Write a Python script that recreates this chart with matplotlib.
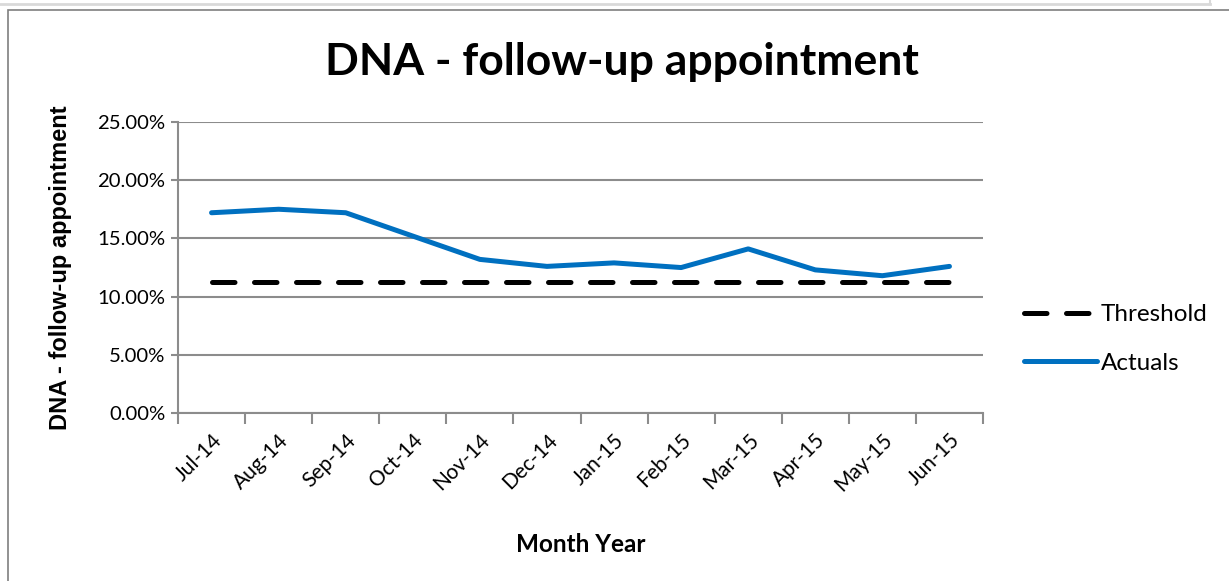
import matplotlib
matplotlib.use("Agg")
import matplotlib.pyplot as plt
from matplotlib.patches import Rectangle
from matplotlib.lines import Line2D
from matplotlib.ticker import FuncFormatter, MultipleLocator
import numpy as np

months = ["Jul-14", "Aug-14", "Sep-14", "Oct-14", "Nov-14", "Dec-14",
          "Jan-15", "Feb-15", "Mar-15", "Apr-15", "May-15", "Jun-15"]
actuals = [17.2, 17.5, 17.2, 15.2, 13.2, 12.6, 12.9, 12.5, 14.1, 12.3, 11.8, 12.6]
threshold = [11.3] * 12

W, H = 1229, 581
fig = plt.figure(figsize=(W / 100, H / 100), dpi=100)
fig.patch.set_facecolor("white")

# outer chart frame
fig.add_artist(Rectangle((8 / W, -0.01), 1.2, (H - 10) / H + 0.01,
                         transform=fig.transFigure, fill=False,
                         edgecolor="#7f7f7f", linewidth=1.2))
fig.add_artist(Line2D([0, 1210 / W], [1 - 4 / H, 1 - 4 / H],
                      transform=fig.transFigure, color="#d9d9d9", linewidth=2))
fig.add_artist(Line2D([1210 / W, 1210 / W], [1 - 4 / H, 1], transform=fig.transFigure,
                      color="#d9d9d9", linewidth=1.5))

ax = fig.add_axes([178 / W, 1 - 413.3 / H, (983 - 178) / W, (413.3 - 121.8) / H])
x = np.arange(len(months))

ax.plot(x, threshold, color="black", linewidth=3.6, linestyle=(0, (4.5, 3.9)),
        dash_capstyle="round", label="Threshold", zorder=3)
ax.plot(x, actuals, color="#0070C0", linewidth=3.6, solid_capstyle="round",
        label="Actuals", zorder=4)

ax.set_xlim(-0.5, len(months) - 0.5)
ax.set_ylim(0, 25)
ax.yaxis.set_major_locator(MultipleLocator(5))
ax.yaxis.set_major_formatter(FuncFormatter(lambda v, p: f"{v:.2f}%"))
ax.grid(axis="y", color="#8c8c8c", linewidth=1.5)
ax.set_axisbelow(True)

for s in ["top", "right"]:
    ax.spines[s].set_visible(False)
for s in ["left", "bottom"]:
    ax.spines[s].set_color("#8c8c8c")
    ax.spines[s].set_linewidth(1.5)

ax.set_xticks(x)
ax.set_xticklabels(months, rotation=45, ha="right", rotation_mode="anchor",
                   fontsize=15, family="Lato")
ax.set_xticks(np.arange(-0.5, len(months)), minor=True)
ax.tick_params(axis="x", which="major", length=0, pad=12)
ax.tick_params(axis="x", which="minor", length=8, width=1.5, color="#8c8c8c")
ax.tick_params(axis="y", length=5, width=1.5, color="#8c8c8c", labelsize=14.6, pad=4)
for lab in ax.get_yticklabels():
    lab.set_family("Lato")

ax.set_ylabel("DNA - follow-up appointment", fontsize=17, fontweight="bold",
              family="Liberation Sans", labelpad=18)
ax.set_xlabel("Month Year", fontsize=17.5, fontweight="bold", family="Lato", labelpad=27)

fig.text(622 / W, 1 - 62 / H, "DNA - follow-up appointment", ha="center", va="center",
         fontsize=32, fontweight="bold", family="Lato")

fig.legend(loc="center left", bbox_to_anchor=(1002 / W, 1 - 339 / H),
           frameon=False, prop={"family": "Lato", "size": 17.5},
           handlelength=3.0, handletextpad=0.15, labelspacing=1.15)

fig.savefig("out.png", dpi=100, facecolor="white")
